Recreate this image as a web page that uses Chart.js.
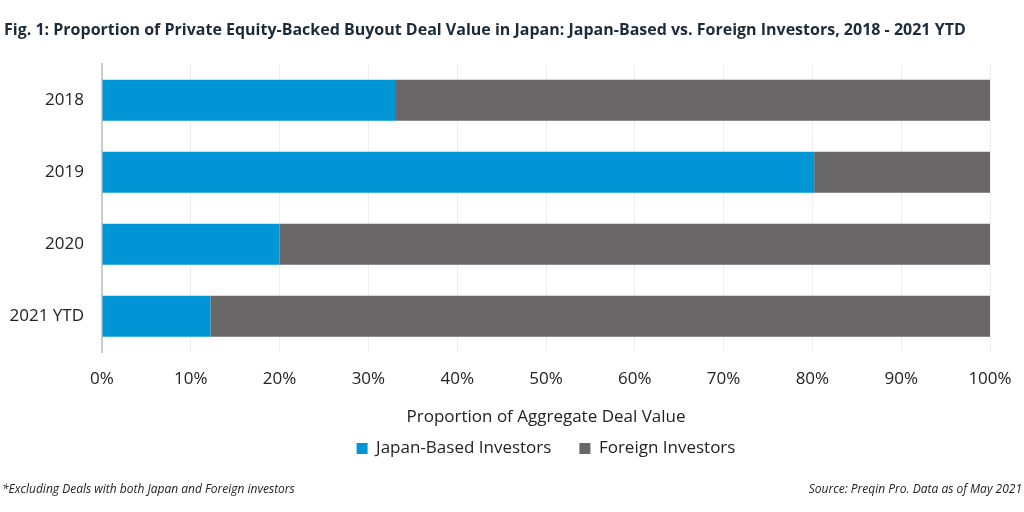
<!DOCTYPE html>
<html><head><meta charset="utf-8">
<script src="https://cdn.jsdelivr.net/npm/chart.js@4"></script>
<style>
html,body{margin:0;padding:0;background:#fff;}
#wrap{position:relative;width:1024px;height:512px;}
canvas{position:absolute;left:0;top:0;}
.note{position:absolute;top:480px;font-family:"Open Sans",sans-serif;font-style:italic;font-size:12px;color:#222;}
</style></head>
<body>
<div id="wrap">
<canvas id="c" width="1024" height="512"></canvas>
<div class="note" style="left:2px;">*Excluding Deals with both Japan and Foreign investors</div>
<div class="note" style="right:2px;">Source: Preqin Pro. Data as of May 2021</div>
</div>
<script>
const categories = ["2018", "2019", "2020", "2021 YTD"];
const japanBased = [33.0, 80.2, 20.0, 12.2];
const foreign = [67.0, 19.8, 80.0, 87.8];
const seriesNames = ["Japan-Based Investors", "Foreign Investors"];
const titleText = "Fig. 1: Proportion of Private Equity-Backed Buyout Deal Value in Japan: Japan-Based vs. Foreign Investors, 2018 - 2021 YTD";
const xTitle = "Proportion of Aggregate Deal Value";

Chart.defaults.font.family = '"Open Sans", sans-serif';
Chart.defaults.color = '#222';

new Chart(document.getElementById('c'), {
  type: 'bar',
  data: {
    labels: categories,
    datasets: [
      {label: seriesNames[0], data: japanBased, backgroundColor: '#0096D6', categoryPercentage: 1, barPercentage: 0.57},
      {label: seriesNames[1], data: foreign, backgroundColor: '#696767', categoryPercentage: 1, barPercentage: 0.57}
    ]
  },
  options: {
    indexAxis: 'y',
    responsive: false,
    animation: false,
    layout: {padding: {left: 4, right: 34, top: 0, bottom: 45}},
    plugins: {
      title: {display: true, text: titleText, align: 'start', color: '#1c2b39',
        font: {size: 16, weight: 'bold'}, padding: {top: 21, bottom: 24}},
      legend: {position: 'bottom', fullSize: false,
        labels: {boxWidth: 11, boxHeight: 11, font: {size: 17}, color: '#222', padding: 28}},
      tooltip: {enabled: false}
    },
    scales: {
      x: {stacked: true, min: 0, max: 100,
        afterFit: (scale) => { scale.paddingRight = 0; scale.paddingLeft = 0; },
        ticks: {stepSize: 10, callback: v => v + '%', font: {size: 17}, color: '#222', padding: 17},
        grid: {color: '#eeeeee', drawTicks: false},
        border: {display: false},
        title: {display: true, text: xTitle, font: {size: 17}, color: '#222', padding: {top: 0, bottom: -15}}
      },
      y: {stacked: true,
        afterFit: (scale) => { scale.width = 98; },
        ticks: {font: {size: 17}, color: '#222', padding: 18},
        grid: {display: false, drawTicks: false},
        border: {display: true, color: '#cccccc', width: 2}
      }
    }
  }
});
</script>
</body></html>
